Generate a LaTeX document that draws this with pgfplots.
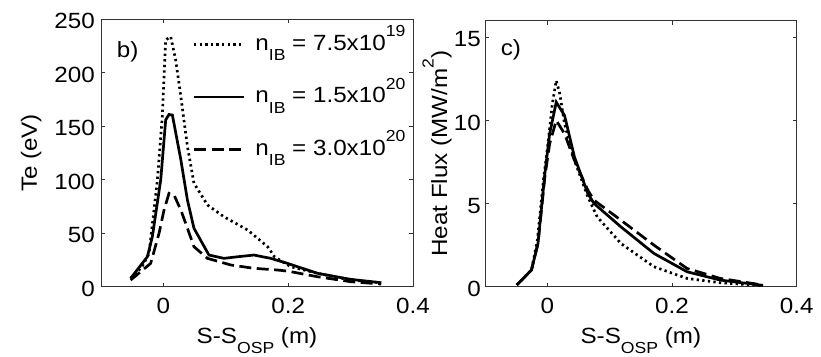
\documentclass[border=0pt]{standalone}
\usepackage{fontspec}
\setmainfont{Liberation Sans}[FakeStretch=1.1]
\usepackage{pgfplots}
\pgfplotsset{compat=1.18}
\newcommand{\mainfs}{\fontsize{22}{26}\selectfont}
\newcommand{\sub}[1]{\raisebox{-10.5pt}{\fontsize{16}{16}\selectfont #1}}
\newcommand{\sups}[1]{\raisebox{13.5pt}{\fontsize{16}{16}\selectfont #1}}
\pgfplotsset{
  myaxis/.style={
    scale only axis,
    anchor=south west,
    xmin=-0.1, xmax=0.4,
    xtick={0,0.2,0.4},
    tick align=inside,
    major tick length=4pt,
    axis line style={line width=0.9pt, black!80},
    every tick/.style={line width=0.8pt, black!80},
    /pgf/number format/assume math mode=true,
    tick label style={font=\mainfs, inner sep=0pt},
    label style={font=\mainfs, inner sep=0pt},
    xticklabel style={anchor=base, yshift=-27pt},
    xlabel style={at={(axis description cs:0.5,0)}, anchor=base, yshift=-56.3pt},
    xlabel={S-S\sub{OSP} (m)},
  },
  dotline/.style={black, line width=2.7pt, dash pattern=on 2.3pt off 3.3pt},
  solline/.style={black, line width=2.7pt},
  dashline/.style={black, line width=2.7pt, dash pattern=on 12pt off 5.5pt},
}
\begin{document}
\begin{tikzpicture}
\useasboundingbox (0pt,0pt) rectangle (821pt,356pt);
\begin{axis}[myaxis,
  at={(101pt,69.3pt)}, width=312pt, height=267.4pt,
  ymin=0, ymax=250, ytick={0,50,...,250},
  yticklabel style={anchor=east, xshift=-6pt, yshift=-2pt},
  ylabel style={at={(axis description cs:0,0.5)}, anchor=base, yshift=64pt},
  ylabel={Te (eV)},
  legend style={draw=none, fill=none, at={(axis cs:0.047,238)}, anchor=north west,
    inner sep=0pt, outer sep=0pt, row sep=28.6pt, column sep=10pt, font=\mainfs,
    nodes={inner sep=0pt, text height=18pt, text depth=6pt, anchor=base west}},
  legend cell align=left,
  legend image code/.code={\draw[#1] (0pt,5.7pt) -- (50pt,5.7pt);},
]
\addplot[dotline] coordinates {
(-0.0525,7.8) (-0.035,18) (-0.023,31) (-0.0096,99.8) (-0.0016,160.5) (0.0037,230.7) (0.0117,233.8)
(0.0197,212) (0.028,177.6) (0.0385,131) (0.049,96.7) (0.0706,76.4) (0.097,65.4)
(0.135,53) (0.167,37.4) (0.178,28) (0.204,18.7) (0.247,12.5) (0.30,6.2) (0.349,3.7)};
\addlegendentry{n\sub{IB} = 7.5x10\sups{19}}
\addplot[solline] coordinates {
(-0.0525,7.8) (-0.0257,28) (-0.0177,46.8) (-0.0043,99.8) (0.0037,156) (0.009,161) (0.0144,160.5)
(0.028,118.5) (0.0385,81) (0.049,54.6) (0.073,29.6) (0.097,26.5) (0.119,28) (0.145,29.6)
(0.172,26.5) (0.199,21.8) (0.247,12.5) (0.30,6.9) (0.349,3.7)};
\addlegendentry{n\sub{IB} = 1.5x10\sups{20}}
\addplot[dashline] coordinates {
(-0.0525,6.2) (-0.0204,21.8) (-0.007,49.9) (0.001,71.7) (0.009,87.3) (0.017,85.7) (0.028,71.7)
(0.0385,54.6) (0.049,37.4) (0.0706,26.5) (0.108,20.3) (0.145,17.2) (0.183,15.6) (0.20,14.5)
(0.247,9.3) (0.30,4.7) (0.349,2.5)};
\addlegendentry{n\sub{IB} = 3.0x10\sups{20}}
\node[font=\mainfs, anchor=base west, inner sep=0pt] at (axis cs:-0.075,214) {b)};
\end{axis}
\begin{axis}[myaxis,
  at={(485pt,69.3pt)}, width=311.7pt, height=266pt,
  ymin=0, ymax=16, ytick={0,5,10,15},
  yticklabel style={anchor=east, xshift=-4pt, yshift=-2pt},
  ylabel style={at={(axis description cs:0,0.5)}, anchor=base, yshift=38pt},
  ylabel={Heat Flux (MW/m\sups{2})},
]
\addplot[dotline] coordinates {
(-0.049,0.1) (-0.0255,1) (-0.016,2.8) (-0.006,6.5) (0.001,8.6) (0.008,11) (0.0143,12.4)
(0.02,11.6) (0.0276,9.8) (0.0435,7.6) (0.065,5.4) (0.08,4.2) (0.118,2.6) (0.171,1.2)
(0.224,0.5) (0.277,0.24) (0.346,0.06)};
\addplot[solline] coordinates {
(-0.049,0.1) (-0.0255,1) (-0.015,2.6) (-0.004,6.8) (0.0037,9.2) (0.0143,11.1) (0.0276,10.3)
(0.0435,7.8) (0.065,5.6) (0.075,5) (0.118,3.6) (0.171,2) (0.224,0.9) (0.277,0.4) (0.346,0.08)};
\addplot[dashline] coordinates {
(-0.049,0.1) (-0.0255,1) (-0.015,2.6) (-0.004,6.6) (0.0037,8.6) (0.0143,10) (0.0276,9.2)
(0.0435,7.6) (0.065,5.8) (0.075,5.2) (0.118,4) (0.171,2.5) (0.224,1.1) (0.277,0.5) (0.346,0.1)};
\node[font=\mainfs, anchor=base west, inner sep=0pt] at (axis cs:-0.075,13.9) {c)};
\end{axis}
\end{tikzpicture}
\end{document}
